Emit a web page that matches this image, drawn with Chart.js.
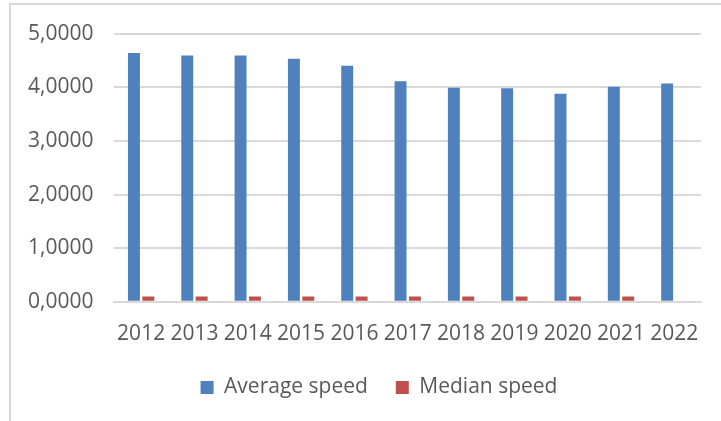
<!DOCTYPE html>
<html>
<head>
<meta charset="utf-8">
<script src="https://cdn.jsdelivr.net/npm/chart.js@4"></script>
<style>
  html, body { margin: 0; padding: 0; background: #fff; }
  #wrap { position: relative; width: 721px; height: 421px; }
  #frame { position: absolute; left: 9px; top: 3px; right: 0; bottom: 0;
           border-left: 2px solid #d9d9d9; border-top: 2px solid #d9d9d9; }
  canvas { position: absolute; left: 0; top: 0; }
</style>
</head>
<body>
<div id="wrap">
  <div id="frame"></div>
  <canvas id="myChart" width="721" height="421"></canvas>
</div>
<script>
const years = ['2012', '2013', '2014', '2015', '2016', '2017', '2018', '2019', '2020', '2021', '2022']
const averageSpeed = [4.64, 4.59, 4.59, 4.53, 4.40, 4.11, 3.99, 3.98, 3.88, 4.01, 4.07]
const medianSpeed = [0.1, 0.1, 0.1, 0.1, 0.1, 0.1, 0.1, 0.1, 0.1, 0.1, null]

const fontFamily = "'Open Sans', sans-serif"
const textColor = '#595959'

const data = {
  labels: years,
  datasets: [
    {
      label: 'Average speed',
      data: averageSpeed,
      backgroundColor: '#4f81bd',
      categoryPercentage: 0.54,
      barPercentage: 0.83,
    },
    {
      label: 'Median speed',
      data: medianSpeed,
      backgroundColor: '#c0504d',
      categoryPercentage: 0.54,
      barPercentage: 0.83,
    },
  ],
}

// legend sits a bit right of centre and closer to the axis in the original
const shiftLegend = {
  id: 'shiftLegend',
  afterLayout(chart) {
    const lg = chart.legend
    lg.left += 25
    lg.right += 25
    lg.top -= 10
    lg.bottom -= 10
  },
}

const config = {
  type: 'bar',
  data: data,
  plugins: [shiftLegend],
  options: {
    responsive: false,
    animation: false,
    layout: { padding: { left: 7, right: 20, top: 0, bottom: 3 } },
    plugins: {
      tooltip: { enabled: false },
      legend: {
        position: 'bottom',
        labels: {
          color: textColor,
          font: { family: fontFamily, size: 21 },
          boxWidth: 13,
          boxHeight: 13,
          padding: 28,
        },
      },
    },
    scales: {
      x: {
        grid: { display: false },
        border: { color: '#d9d9d9', width: 2 },
        ticks: {
          color: textColor,
          font: { family: fontFamily, size: 21 },
          padding: 12,
          maxRotation: 0,
        },
      },
      y: {
        min: 0,
        max: 5,
        grid: { color: '#d9d9d9', lineWidth: 2, drawTicks: false },
        border: { display: false },
        ticks: {
          stepSize: 1,
          color: textColor,
          font: { family: fontFamily, size: 21 },
          padding: 21,
          callback: (v) => v.toFixed(4).replace('.', ','),
        },
      },
    },
  },
}

const myChart = new Chart(document.getElementById('myChart'), config)
</script>
</body>
</html>
